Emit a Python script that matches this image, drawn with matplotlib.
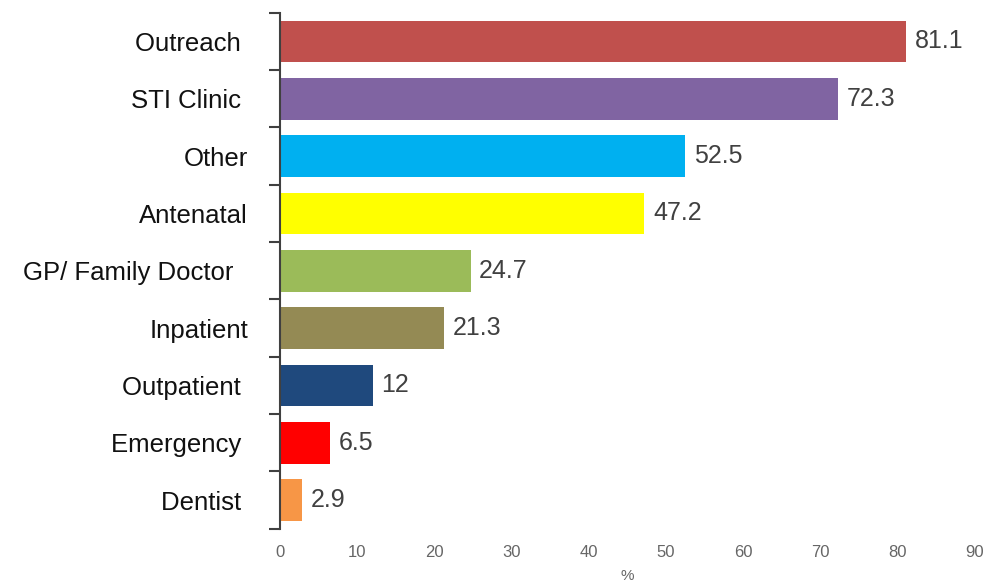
import matplotlib.pyplot as plt
import numpy as np

plt.rcParams['font.family'] = ['Liberation Sans', 'DejaVu Sans']

# trailing spaces kept as in the source labels (they shift the right edge)
categories = ['Outreach ', 'STI Clinic ', 'Other', 'Antenatal', 'GP/ Family Doctor  ',
              'Inpatient', 'Outpatient ', 'Emergency ', 'Dentist ']
values = [81.1, 72.3, 52.5, 47.2, 24.7, 21.3, 12, 6.5, 2.9]
value_labels = ['81.1', '72.3', '52.5', '47.2', '24.7', '21.3', '12', '6.5', '2.9']
colors = ['#C0504D', '#8064A2', '#00B0F0', '#FFFF00', '#9BBB59',
          '#948A54', '#1F497D', '#FF0000', '#F79646']
xticks = [0, 10, 20, 30, 40, 50, 60, 70, 80, 90]

fig = plt.figure(figsize=(9.88, 5.83), dpi=100)
ax = fig.add_axes([0.2834, 0.093, 0.7034, 0.885])

y = np.arange(len(categories))
ax.barh(y, values, height=0.73, color=colors)
ax.set_ylim(len(categories) - 0.5, -0.5)
ax.set_xlim(0, 90)

for yi, v, lab in zip(y, values, value_labels):
    ax.text(v + 1.1, yi, lab, va='center', ha='left', fontsize=18, color='#404040')

ax.set_yticks(y)
ax.set_yticklabels(categories, fontsize=18.5, color='#111111')
ax.tick_params(axis='y', length=0, pad=23)
# tick marks at category boundaries
ax.set_yticks(np.arange(-0.5, len(categories), 1), minor=True)
ax.tick_params(axis='y', which='minor', length=8, color='#404040', width=1.5)

ax.set_xticks(xticks)
ax.set_xticklabels([str(t) for t in xticks], fontsize=12, color='#666666')
ax.tick_params(axis='x', length=0, pad=12)
ax.set_xlabel('%', fontsize=11, color='#666666', labelpad=6)

for s in ['top', 'right', 'bottom']:
    ax.spines[s].set_visible(False)
ax.spines['left'].set_color('#404040')
ax.spines['left'].set_linewidth(1.5)

fig.savefig('out.png', dpi=100)
